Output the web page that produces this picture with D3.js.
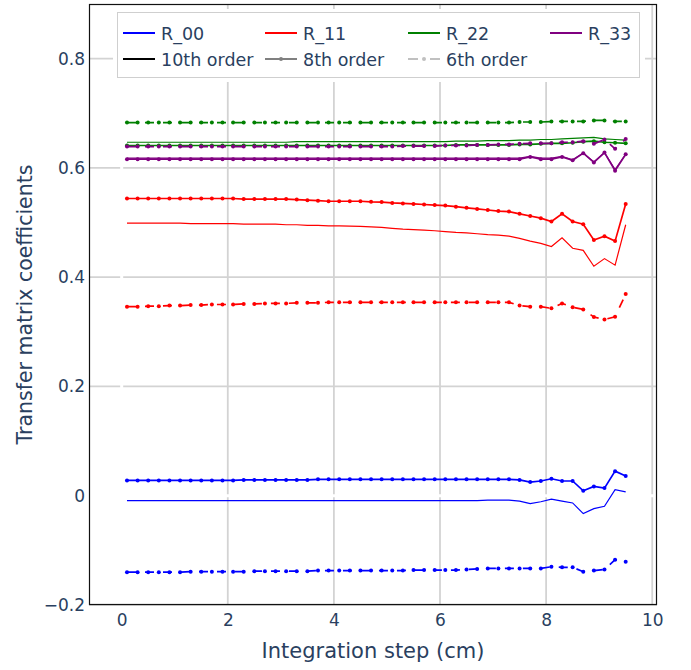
<!DOCTYPE html>
<html>
<head>
<meta charset="utf-8">
<script src="https://cdn.jsdelivr.net/npm/d3@7"></script>
<style>
    body { margin: 0; background: #fff; }
    text { font-family: "DejaVu Sans", Verdana, sans-serif; fill: #2a3f5f; }
</style>
</head>
<body>
<div id="chart"></div>
<script>
// integration step positions (cm)
var steps = [0.1, 0.3, 0.5, 0.7, 0.9, 1.1, 1.3, 1.5, 1.7, 1.9, 2.1, 2.3, 2.5, 2.7, 2.9, 3.1,
    3.3, 3.5, 3.7, 3.9, 4.1, 4.3, 4.5, 4.7, 4.9, 5.1, 5.3, 5.5, 5.7, 5.9, 6.1, 6.3,
    6.5, 6.7, 6.9, 7.1, 7.3, 7.5, 7.7, 7.9, 8.1, 8.3, 8.5, 8.7, 8.9, 9.1, 9.3, 9.5];

var components = ["R_00", "R_11", "R_22", "R_33"];
var componentColors = ["#0000ff", "#ff0000", "#008000", "#800080"];
var orders = ["10th order", "8th order", "6th order"];
var orderColors = ["#000000", "#808080", "#c0c0c0"];

var yTicks = [-0.2, 0, 0.2, 0.4, 0.6, 0.8];
var xTicks = [0, 2, 4, 6, 8, 10];

// R_00
var r00_10 = [-0.009, -0.009, -0.009, -0.009, -0.009, -0.009, -0.009, -0.009, -0.009, -0.009, -0.009, -0.009, -0.009, -0.009, -0.009, -0.009,
    -0.009, -0.009, -0.009, -0.009, -0.009, -0.009, -0.009, -0.009, -0.009, -0.009, -0.009, -0.009, -0.009, -0.009, -0.009, -0.009,
    -0.009, -0.009, -0.008, -0.008, -0.008, -0.010, -0.0145, -0.011, -0.0064, -0.010, -0.0132, -0.0328, -0.0236, -0.0192, 0.0112, 0.007];
var r00_8 = [0.028, 0.028, 0.028, 0.028, 0.028, 0.028, 0.028, 0.028, 0.028, 0.028, 0.028, 0.029, 0.029, 0.029, 0.029, 0.029,
    0.029, 0.029, 0.030, 0.030, 0.030, 0.030, 0.030, 0.030, 0.030, 0.030, 0.030, 0.030, 0.030, 0.030, 0.030, 0.030,
    0.030, 0.030, 0.030, 0.030, 0.030, 0.029, 0.025, 0.027, 0.031, 0.027, 0.027, 0.009, 0.017, 0.014, 0.045, 0.036];
var r00_6 = [-0.140, -0.140, -0.140, -0.140, -0.140, -0.140, -0.139, -0.139, -0.139, -0.139, -0.139, -0.139, -0.138, -0.138, -0.138, -0.138,
    -0.138, -0.138, -0.137, -0.137, -0.137, -0.137, -0.137, -0.137, -0.137, -0.137, -0.137, -0.136, -0.136, -0.136, -0.136, -0.136,
    -0.135, -0.134, -0.133, -0.133, -0.133, -0.133, -0.133, -0.133, -0.130, -0.131, -0.131, -0.139, -0.137, -0.135, -0.117, -0.121];

// R_11
var r11_10 = [0.499, 0.499, 0.499, 0.499, 0.499, 0.499, 0.498, 0.498, 0.498, 0.498, 0.498, 0.497, 0.497, 0.497, 0.497, 0.496,
    0.496, 0.495, 0.495, 0.494, 0.494, 0.4935, 0.493, 0.492, 0.491, 0.4895, 0.488, 0.487, 0.486, 0.485, 0.4835, 0.482,
    0.481, 0.4795, 0.478, 0.477, 0.475, 0.471, 0.466, 0.462, 0.456, 0.472, 0.453, 0.449, 0.420, 0.434, 0.422, 0.496];
var r11_8 = [0.544, 0.544, 0.544, 0.544, 0.544, 0.544, 0.544, 0.544, 0.544, 0.544, 0.544, 0.543, 0.543, 0.543, 0.543, 0.543,
    0.542, 0.541, 0.540, 0.539, 0.539, 0.539, 0.539, 0.538, 0.5375, 0.536, 0.535, 0.534, 0.533, 0.532, 0.531, 0.529,
    0.527, 0.525, 0.523, 0.521, 0.520, 0.516, 0.512, 0.508, 0.502, 0.516, 0.502, 0.497, 0.468, 0.475, 0.466, 0.534];
var r11_6 = [0.346, 0.346, 0.347, 0.347, 0.348, 0.348, 0.349, 0.349, 0.350, 0.350, 0.350, 0.351, 0.351, 0.352, 0.352, 0.352,
    0.353, 0.353, 0.353, 0.354, 0.354, 0.354, 0.354, 0.354, 0.354, 0.354, 0.354, 0.354, 0.354, 0.354, 0.354, 0.354,
    0.354, 0.354, 0.354, 0.354, 0.354, 0.348, 0.346, 0.346, 0.343, 0.352, 0.345, 0.341, 0.327, 0.3225, 0.3275, 0.369];

// R_22
var r22_10 = [0.647, 0.647, 0.647, 0.647, 0.647, 0.647, 0.647, 0.647, 0.647, 0.647, 0.647, 0.647, 0.647, 0.647, 0.647, 0.647,
    0.648, 0.648, 0.648, 0.648, 0.648, 0.648, 0.648, 0.648, 0.648, 0.648, 0.648, 0.648, 0.648, 0.648, 0.648, 0.649,
    0.649, 0.649, 0.650, 0.650, 0.650, 0.651, 0.651, 0.652, 0.652, 0.653, 0.654, 0.655, 0.656, 0.653, 0.652, 0.651];
var r22_8 = [0.641, 0.641, 0.641, 0.641, 0.641, 0.641, 0.641, 0.641, 0.641, 0.641, 0.641, 0.641, 0.641, 0.641, 0.641, 0.641,
    0.641, 0.641, 0.641, 0.641, 0.641, 0.641, 0.641, 0.641, 0.641, 0.641, 0.641, 0.641, 0.641, 0.641, 0.641, 0.642,
    0.642, 0.642, 0.642, 0.642, 0.642, 0.643, 0.643, 0.644, 0.645, 0.645, 0.646, 0.648, 0.649, 0.647, 0.646, 0.645];
var r22_6 = [0.683, 0.683, 0.683, 0.683, 0.683, 0.683, 0.683, 0.683, 0.683, 0.683, 0.683, 0.683, 0.683, 0.683, 0.683, 0.683,
    0.683, 0.683, 0.683, 0.683, 0.683, 0.683, 0.683, 0.683, 0.683, 0.683, 0.683, 0.683, 0.683, 0.683, 0.683, 0.683,
    0.683, 0.683, 0.683, 0.683, 0.683, 0.684, 0.684, 0.684, 0.685, 0.685, 0.685, 0.685, 0.687, 0.687, 0.685, 0.685];

// R_33
var r33_10 = [0.618, 0.618, 0.618, 0.618, 0.618, 0.618, 0.618, 0.618, 0.618, 0.618, 0.618, 0.618, 0.618, 0.618, 0.618, 0.618,
    0.618, 0.618, 0.618, 0.618, 0.618, 0.618, 0.618, 0.618, 0.618, 0.618, 0.618, 0.618, 0.618, 0.618, 0.618, 0.618,
    0.618, 0.618, 0.618, 0.618, 0.618, 0.618, 0.621, 0.618, 0.618, 0.621, 0.615, 0.627, 0.611, 0.628, 0.597, 0.625];
var r33_8 = [0.616, 0.616, 0.616, 0.616, 0.616, 0.616, 0.616, 0.616, 0.616, 0.616, 0.616, 0.616, 0.616, 0.616, 0.616, 0.616,
    0.616, 0.616, 0.616, 0.616, 0.616, 0.616, 0.616, 0.616, 0.616, 0.616, 0.616, 0.616, 0.616, 0.616, 0.616, 0.616,
    0.616, 0.616, 0.616, 0.616, 0.616, 0.616, 0.620, 0.616, 0.616, 0.620, 0.614, 0.627, 0.610, 0.628, 0.595, 0.625];
var r33_6 = [0.639, 0.639, 0.639, 0.639, 0.639, 0.639, 0.639, 0.639, 0.639, 0.639, 0.639, 0.639, 0.639, 0.639, 0.639, 0.639,
    0.639, 0.639, 0.639, 0.639, 0.639, 0.639, 0.639, 0.639, 0.639, 0.639, 0.640, 0.640, 0.640, 0.640, 0.641, 0.641,
    0.641, 0.642, 0.642, 0.643, 0.643, 0.644, 0.645, 0.645, 0.645, 0.647, 0.647, 0.649, 0.644, 0.652, 0.635, 0.653];

(function () {

    var width = 691,
        height = 670;

    var plot = {left: 89, right: 657, top: 4, bottom: 605};

    var x = d3.scaleLinear()
        .domain([-0.616, 10.09])
        .range([plot.left, plot.right]);

    var y = d3.scaleLinear()
        .domain([-0.2, 0.9])
        .range([plot.bottom, plot.top]);

    var svg = d3.select("#chart").append("svg")
        .attr("width", width)
        .attr("height", height);

    var traces = [
        {comp: 0, order: 0, values: r00_10}, {comp: 1, order: 0, values: r11_10},
        {comp: 2, order: 0, values: r22_10}, {comp: 3, order: 0, values: r33_10},
        {comp: 0, order: 1, values: r00_8}, {comp: 1, order: 1, values: r11_8},
        {comp: 2, order: 1, values: r22_8}, {comp: 3, order: 1, values: r33_8},
        {comp: 0, order: 2, values: r00_6}, {comp: 1, order: 2, values: r11_6},
        {comp: 2, order: 2, values: r22_6}, {comp: 3, order: 2, values: r33_6}
    ];

    // grid
    var grid = svg.append("g").attr("class", "grid");
    grid.selectAll("line.gx")
        .data(xTicks.filter(d => d !== 0))
        .enter().append("line")
        .attr("class", "gx")
        .attr("x1", d => x(d)).attr("x2", d => x(d))
        .attr("y1", plot.top).attr("y2", plot.bottom)
        .attr("stroke", "#d3d3d3")
        .attr("stroke-width", 1.8);
    grid.selectAll("line.gy")
        .data(yTicks.filter(d => d !== 0))
        .enter().append("line")
        .attr("class", "gy")
        .attr("x1", plot.left).attr("x2", plot.right)
        .attr("y1", d => y(d)).attr("y2", d => y(d))
        .attr("stroke", "#d3d3d3")
        .attr("stroke-width", 1.8);
    // white zero lines
    grid.append("line")
        .attr("x1", x(0)).attr("x2", x(0))
        .attr("y1", plot.top).attr("y2", plot.bottom)
        .attr("stroke", "#fff").attr("stroke-width", 3);
    grid.append("line")
        .attr("x1", plot.left).attr("x2", plot.right)
        .attr("y1", y(0)).attr("y2", y(0))
        .attr("stroke", "#fff").attr("stroke-width", 3);

    // traces
    var line = d3.line()
        .x((d, i) => x(steps[i]))
        .y(d => y(d));

    var g = svg.append("g");
    traces.forEach(function (t) {
        var col = componentColors[t.comp];
        g.append("path")
            .datum(t.values)
            .attr("d", line)
            .attr("fill", "none")
            .attr("stroke", col)
            .attr("stroke-width", t.order === 0 ? 1.2 : 1.7)
            .attr("stroke-dasharray", t.order === 2 ? "9,9" : null);
        if (t.order > 0) {
            g.selectAll(null)
                .data(t.values)
                .enter().append("circle")
                .attr("cx", (d, i) => x(steps[i]))
                .attr("cy", d => y(d))
                .attr("r", 2)
                .attr("fill", col);
        }
    });

    // frame
    svg.append("rect")
        .attr("x", plot.left + 0.5)
        .attr("y", plot.top + 0.5)
        .attr("width", plot.right - plot.left - 1)
        .attr("height", plot.bottom - plot.top - 1)
        .attr("fill", "none")
        .attr("stroke", "#111")
        .attr("stroke-width", 1.2);

    // axes
    var xAxis = svg.append("g")
        .attr("transform", "translate(0," + plot.bottom + ")")
        .call(d3.axisBottom(x).tickValues(xTicks).tickSize(0).tickPadding(9)
            .tickFormat(d3.format("d")));
    var yAxis = svg.append("g")
        .attr("transform", "translate(" + plot.left + ",0)")
        .call(d3.axisLeft(y).tickValues(yTicks).tickSize(0).tickPadding(4)
            .tickFormat(d => d === 0 ? "0" : d3.format(".1f")(d)));
    [xAxis, yAxis].forEach(function (a) {
        a.select(".domain").remove();
        a.selectAll("text")
            .style("font-size", "17px")
            .style("font-family", "\"DejaVu Sans\", Verdana, sans-serif")
            .attr("fill", "#2a3f5f");
    });

    svg.append("text")
        .attr("x", (plot.left + plot.right) / 2)
        .attr("y", 658)
        .attr("text-anchor", "middle")
        .style("font-size", "21px")
        .text("Integration step (cm)");
    svg.append("text")
        .attr("transform", "translate(32," + (plot.top + plot.bottom) / 2 + ") rotate(-90)")
        .attr("text-anchor", "middle")
        .style("font-size", "20.5px")
        .text("Transfer matrix coefficients");

    // legend
    var legend = svg.append("g");
    legend.append("rect")
        .attr("x", 113).attr("y", 9)
        .attr("width", 532).attr("height", 73)
        .attr("fill", "#fff");
    legend.append("rect")
        .attr("x", 117.5).attr("y", 12.5)
        .attr("width", 522).attr("height", 65)
        .attr("fill", "#fff")
        .attr("stroke", "#cfcfcf")
        .attr("stroke-width", 1);

    var cols = [123, 265, 408, 550];
    var rows = [33, 59];

    var items = components.map((c, i) => ({label: c, color: componentColors[i], row: 0, col: i, order: 0}))
        .concat(orders.map((o, i) => ({label: o, color: orderColors[i], row: 1, col: i, order: i})));

    items.forEach(function (it) {
        var lx = cols[it.col], ly = rows[it.row];
        legend.append("line")
            .attr("x1", lx).attr("x2", lx + 32)
            .attr("y1", ly).attr("y2", ly)
            .attr("stroke", it.color)
            .attr("stroke-width", 2)
            .attr("stroke-dasharray", it.order === 2 ? "10,12" : null);
        if (it.row === 1 && it.order > 0) {
            legend.append("circle")
                .attr("cx", lx + 16).attr("cy", ly)
                .attr("r", 2)
                .attr("fill", it.color);
        }
        legend.append("text")
            .attr("x", lx + 38)
            .attr("y", ly + 6.5)
            .style("font-size", "17.5px")
            .text(it.label);
    });

})();
</script>
</body>
</html>
